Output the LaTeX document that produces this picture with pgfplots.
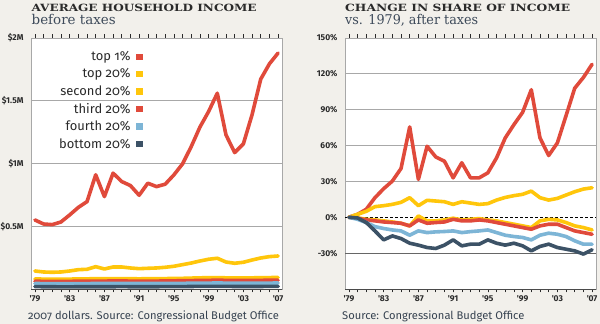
\documentclass[border=0pt]{standalone}
\usepackage{fontspec}
\setmainfont{Fira Sans}[Numbers=OldStyle]
\newfontfamily\tickfont{Fira Sans}[Numbers=Lining]
\newfontfamily\titlefont{DejaVu Serif}
\usepackage{graphicx}
\usepackage{pgfplots}
\usepackage{pgfplotstable}
\pgfplotsset{compat=1.18}

\definecolor{bg}{HTML}{F2F0EB}
\definecolor{cred}{HTML}{E04A3B}
\definecolor{cyel}{HTML}{FFC60B}
\definecolor{cblue}{HTML}{7DB5D6}
\definecolor{cdark}{HTML}{3C5266}
\definecolor{gridc}{HTML}{A8A8A8}
\definecolor{txt}{HTML}{2A2A2A}
\definecolor{subc}{HTML}{3D4A5A}

% Average household income before taxes (millions of 2007 dollars)
\pgfplotstableread{
year top1 top20 second third fourth bottom
1979 0.550 0.1435 0.080 0.062 0.044 0.019
1980 0.518 0.1356 0.079 0.061 0.043 0.018
1981 0.513 0.133 0.078 0.060 0.043 0.018
1982 0.534 0.1356 0.078 0.060 0.042 0.017
1983 0.590 0.1435 0.079 0.061 0.042 0.017
1984 0.650 0.154 0.080 0.062 0.043 0.018
1985 0.696 0.157 0.081 0.062 0.043 0.018
1986 0.910 0.178 0.082 0.063 0.044 0.018
1987 0.736 0.1595 0.082 0.063 0.044 0.018
1988 0.923 0.1754 0.083 0.064 0.044 0.018
1989 0.856 0.1754 0.083 0.064 0.045 0.019
1990 0.824 0.1675 0.082 0.063 0.044 0.018
1991 0.747 0.162 0.081 0.063 0.044 0.018
1992 0.843 0.165 0.082 0.063 0.044 0.018
1993 0.816 0.1675 0.082 0.063 0.044 0.018
1994 0.835 0.173 0.083 0.064 0.044 0.019
1995 0.909 0.181 0.084 0.065 0.045 0.019
1996 0.997 0.194 0.085 0.066 0.045 0.019
1997 1.135 0.207 0.087 0.067 0.046 0.020
1998 1.290 0.223 0.089 0.068 0.047 0.021
1999 1.414 0.237 0.090 0.069 0.047 0.021
2000 1.560 0.245 0.091 0.070 0.048 0.021
2001 1.228 0.215 0.089 0.069 0.047 0.021
2002 1.087 0.205 0.088 0.068 0.046 0.020
2003 1.156 0.213 0.088 0.068 0.046 0.020
2004 1.388 0.231 0.089 0.069 0.047 0.020
2005 1.672 0.247 0.090 0.069 0.047 0.020
2006 1.794 0.258 0.091 0.070 0.047 0.021
2007 1.880 0.263 0.092 0.070 0.048 0.021
}\incometable

% Change in share of after-tax income vs. 1979 (percent)
\pgfplotstableread{
year top1 top20 second third fourth bottom
1979 0 0 0 0 0 0
1980 2.5 2.5 -0.5 -0.8 -1.7 -0.6
1981 6.7 5.0 -1.7 -2.2 -4.4 -4.4
1982 16.4 8.9 -2.2 -3.0 -7.8 -11.4
1983 23.9 9.7 -3.0 -3.9 -9.4 -18.9
1984 30.3 10.8 -3.9 -4.4 -10.6 -15.6
1985 40.8 12.5 -5.0 -5.0 -11.4 -17.8
1986 75.6 16.4 -7.2 -7.2 -15.0 -21.7
1987 31.7 9.7 1.1 -2.2 -11.4 -23.3
1988 59.4 14.2 -3.0 -5.0 -12.8 -25.3
1989 50.5 13.6 -3.0 -4.4 -12.2 -26.1
1990 46.9 13.0 -2.2 -3.9 -11.9 -23.3
1991 33.0 10.8 -0.8 -1.7 -11.4 -18.9
1992 45.6 13.0 -2.2 -3.0 -12.8 -23.9
1993 33.0 11.9 -1.7 -3.0 -12.0 -22.5
1994 33.0 10.8 -1.1 -2.2 -11.4 -22.5
1995 37.2 11.4 -2.2 -3.0 -10.6 -18.9
1996 49.7 14.4 -3.0 -4.4 -12.8 -21.7
1997 66.4 16.6 -4.4 -5.8 -15.0 -23.3
1998 77.5 18.1 -5.8 -7.2 -16.1 -21.7
1999 87.8 19.2 -7.2 -8.6 -16.9 -23.9
2000 106.7 21.9 -8.6 -10.0 -18.9 -28.1
2001 66.4 16.4 -3.0 -7.2 -15.0 -24.4
2002 51.7 14.4 -1.7 -5.8 -13.3 -22.5
2003 62.2 15.8 -2.2 -5.8 -14.2 -25.3
2004 85.0 18.6 -4.4 -8.6 -16.1 -26.7
2005 108.0 21.4 -7.2 -11.4 -19.7 -28.1
2006 117.0 23.6 -8.6 -12.8 -22.5 -30.8
2007 128.0 24.7 -10.6 -14.2 -22.5 -27.2
}\sharetable

\pgfplotsset{
  nytstyle/.style={
    scale only axis, width=251bp, height=251bp, anchor=south west,
    xmin=1978.55, xmax=2007.45, clip=false,
    axis background/.style={fill=white},
    axis line style={gridc, line width=0.8bp},
    ymajorgrids, major grid style={gridc, line width=0.8bp},
    xtick={1979,1983,...,2007},
    xticklabels={{'79},{'83},{'87},{'91},{'95},{'99},{'03},{'07}},
    minor xtick={1979,...,2007},
    tick align=outside, major tick length=3.5bp, minor tick length=3.5bp,
    xtick style={txt, line width=0.6bp},
    minor tick style={txt, line width=0.6bp},
    ytick style={draw=none},
    tick label style={font=\tickfont\bfseries\fontsize{8.5}{10}\selectfont, text=txt},
    xticklabel style={yshift=0.5bp},
    yticklabel style={xshift=-0.5bp},
    every axis plot/.append style={line width=3.6bp, line join=round, line cap=round, no markers},
  }
}

\begin{document}
\begin{tikzpicture}
\fill[bg] (0bp,0bp) rectangle (600bp,324bp);
\useasboundingbox (0bp,0bp) rectangle (600bp,324bp);

% ---------- Titles ----------
\node[anchor=base west, inner sep=0, text=txt] at (31.5bp,312.5bp)
  {\resizebox{225bp}{\height}{\titlefont\bfseries\fontsize{10}{11}\selectfont AVERAGE HOUSEHOLD INCOME}};
\node[anchor=base west, inner sep=0, text=subc] at (31.5bp,299bp)
  {\resizebox{84bp}{\height}{\titlefont\fontsize{13.5}{15}\selectfont before taxes}};
\node[anchor=base west, inner sep=0, text=txt] at (345bp,312.5bp)
  {\resizebox{225bp}{\height}{\titlefont\bfseries\fontsize{10}{11}\selectfont CHANGE IN SHARE OF INCOME}};
\node[anchor=base west, inner sep=0, text=subc] at (345bp,299bp)
  {\resizebox{133bp}{\height}{\titlefont\fontsize{13.5}{15}\selectfont vs. 1979, after taxes}};

% ---------- Left chart ----------
\begin{axis}[nytstyle, at={(31bp,35bp)},
  ymin=0, ymax=2, ytick={0.5,1,1.5,2},
  yticklabels={\$0.5M,\$1M,\$1.5M,\$2M},
  legend style={at={(0.446,0.954)}, anchor=north east, draw=none, fill=none,
    font=\fontsize{13}{15}\selectfont, text=txt, row sep=2.3bp,
    inner sep=0pt, column sep=3.5bp},
  legend cell align=right, legend plot pos=right,
  legend image code/.code={\path[#1,draw=none,fill] (0bp,-3.3bp) rectangle (6.6bp,3.3bp);},
]
\addplot[cred] table[x=year,y=top1] {\incometable};
\addlegendentry{top 1\%}
\addplot[cyel] table[x=year,y=top20] {\incometable};
\addlegendentry{top 20\%}
\addplot[cyel] table[x=year,y=second] {\incometable};
\addlegendentry{second 20\%}
\addplot[cred] table[x=year,y=third] {\incometable};
\addlegendentry{third 20\%}
\addplot[cblue] table[x=year,y=fourth] {\incometable};
\addlegendentry{fourth 20\%}
\addplot[cdark] table[x=year,y=bottom] {\incometable};
\addlegendentry{bottom 20\%}
\draw[txt!85, line width=0.9bp] (rel axis cs:0,0) -- (rel axis cs:1,0);
\end{axis}

% ---------- Right chart ----------
\begin{axis}[nytstyle, at={(345bp,35bp)},
  ymin=-60, ymax=150, ytick={-30,0,30,60,90,120,150},
  yticklabels={-30\%,0\%,30\%,60\%,90\%,120\%,150\%},
]
\draw[white, line width=1bp] (axis cs:1978.55,0) -- (axis cs:2007.45,0);
\draw[black, line width=0.8bp, dash pattern=on 2.5bp off 2.5bp] (axis cs:1978.55,0) -- (axis cs:2007.45,0);
\draw[gray!80!black, line width=0.8bp] (axis cs:1978.55,-30) -- (axis cs:2007.45,-30);
\addplot[cred] table[x=year,y=top1] {\sharetable};
\addplot[cyel] table[x=year,y=top20] {\sharetable};
\addplot[cyel] table[x=year,y=second] {\sharetable};
\addplot[cred] table[x=year,y=third] {\sharetable};
\addplot[cblue] table[x=year,y=fourth] {\sharetable};
\addplot[cdark] table[x=year,y=bottom] {\sharetable};
\draw[txt!85, line width=0.9bp] (rel axis cs:0,0) -- (rel axis cs:1,0);
\end{axis}

% ---------- Sources ----------
\node[anchor=base west, inner sep=0, text=subc!90!black] at (28bp,5bp)
  {\fontsize{11.2}{13}\selectfont 2007 dollars. Source: Congressional Budget Office};
\node[anchor=base west, inner sep=0, text=subc!90!black] at (342bp,5bp)
  {\fontsize{11.2}{13}\selectfont Source: Congressional Budget Office};
\end{tikzpicture}
\end{document}
